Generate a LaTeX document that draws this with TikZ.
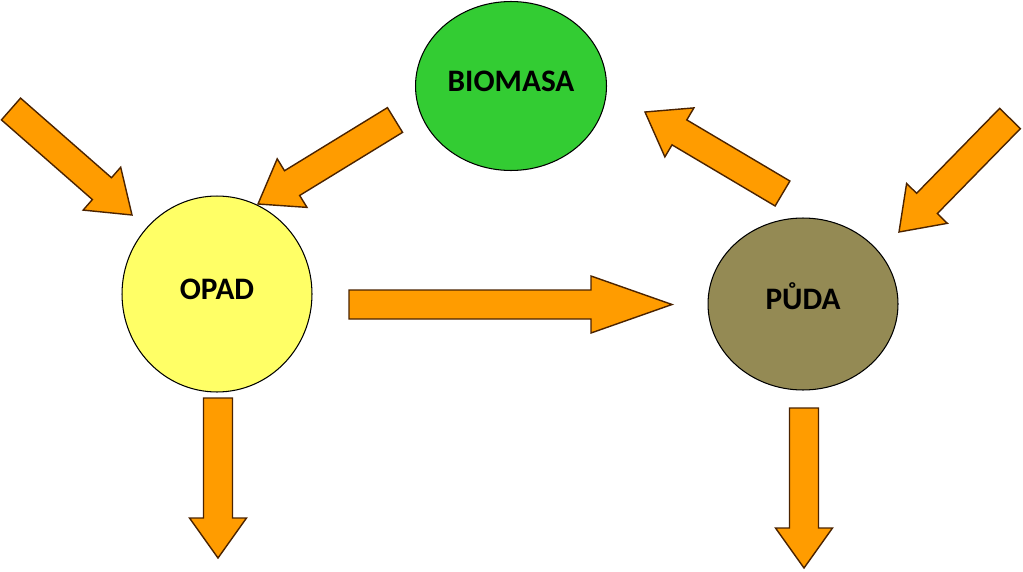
\documentclass[tikz,border=0pt]{standalone}
\usepackage{fontspec}
\setmainfont{Carlito}
\usetikzlibrary{shapes.geometric,calc}

\definecolor{arrowfill}{RGB}{255,156,0}
\definecolor{arrowline}{RGB}{75,35,0}
\definecolor{biomasacol}{RGB}{51,204,51}
\definecolor{opadcol}{RGB}{255,255,102}
\definecolor{pudacol}{RGB}{148,138,84}

% block arrow: [head length]{tail}{tip}
\newcommand{\flowarrow}[3][0.8cm]{%
	\coordinate (fh) at ($(#3)!#1!(#2)$);
	\draw[flow] ($(#2)!0.29cm!90:(#3)$) -- ($(fh)!0.29cm!90:(#3)$)
		-- ($(fh)!0.57cm!90:(#3)$) -- (#3) -- ($(fh)!0.57cm!-90:(#3)$)
		-- ($(fh)!0.29cm!-90:(#3)$) -- ($(#2)!0.29cm!-90:(#3)$) -- cycle;
}

\begin{document}
\begin{tikzpicture}[x=0.02cm, y=-0.02cm,
	blob/.style={ellipse, draw=black, line width=0.6pt, inner sep=0pt,
		font=\fontsize{17.8}{21}\selectfont\bfseries, text height=0.64em, text depth=0pt},
	flow/.style={fill=arrowfill, draw=arrowline, line width=0.8pt, line join=miter}]

\useasboundingbox (0,0) rectangle (1023,571);

\node[blob, fill=biomasacol, minimum width=3.82cm, minimum height=3.38cm] (biomasa) at (511,86) {BIOMASA};
\node[blob, fill=opadcol, minimum width=3.8cm, minimum height=3.92cm] (opad) at (217,294) {OPAD};
\node[blob, fill=pudacol, minimum width=3.8cm, minimum height=3.44cm] (puda) at (803,304) {PŮDA};

% arrow ends
\coordinate (inl) at (11,109);
\coordinate (inltip) at (132,215);
\coordinate (bo) at (395,120);
\coordinate (botip) at (258,204);
\coordinate (op) at (349,304.5);
\coordinate (optip) at (672,304.5);
\coordinate (pb) at (782.5,193.5);
\coordinate (pbtip) at (645,112);
\coordinate (inr) at (1010,118.5);
\coordinate (inrtip) at (899,232);
\coordinate (outo) at (218,398);
\coordinate (outotip) at (218,558);
\coordinate (outp) at (804,408);
\coordinate (outptip) at (804,568);

\foreach \from/\to/\hl in {inl/inltip/0.8cm, bo/botip/0.8cm, op/optip/1.62cm,
	pb/pbtip/0.8cm, inr/inrtip/0.8cm, outo/outotip/0.8cm, outp/outptip/0.8cm} {
	\flowarrow[\hl]{\from}{\to}
}

\end{tikzpicture}
\end{document}
